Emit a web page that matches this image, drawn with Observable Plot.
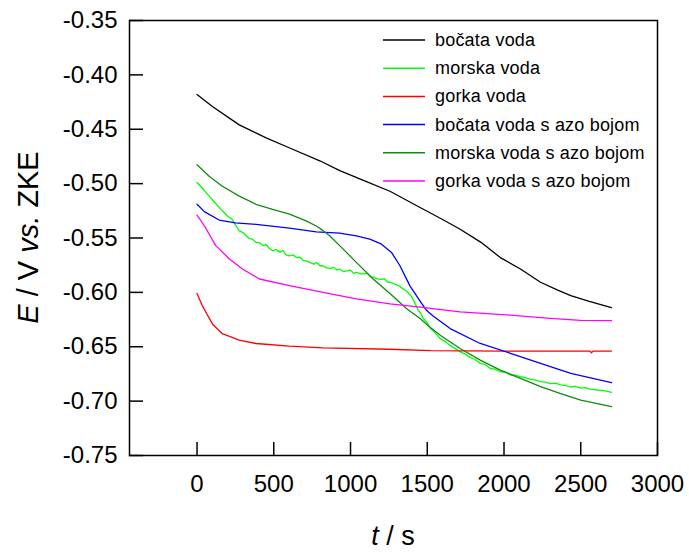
<!DOCTYPE html>
<html><head><meta charset="utf-8">
<script src="https://cdn.jsdelivr.net/npm/d3@7"></script>
<script src="https://cdn.jsdelivr.net/npm/@observablehq/plot@0.6"></script>
<style>body{margin:0;background:#fff;} #chart{position:relative;width:689px;height:552px;}</style>
</head><body><div id="chart"></div>
<script>
const seriesNames = ["bočata voda", "morska voda", "gorka voda", "bočata voda s azo bojom", "morska voda s azo bojom", "gorka voda s azo bojom"];
const seriesColors = ["#000000", "#00ff00", "#ff0000", "#0000ff", "#108a10", "#ff00ff"];

const t_bocata = [0, 100, 275, 450, 600, 800, 930, 1100, 1257, 1453, 1600, 1714, 1850, 1976, 2107, 2238, 2350, 2435, 2550, 2700];
const E_bocata = [-0.418, -0.429, -0.446, -0.458, -0.467, -0.479, -0.488, -0.498, -0.507, -0.522, -0.533, -0.542, -0.554, -0.568, -0.5785, -0.5907, -0.598, -0.603, -0.608, -0.614];

const t_morska = [0, 40, 79, 120, 165, 200, 231, 245, 260, 275, 300, 320, 340, 360, 384, 410, 430, 450, 470, 493, 515, 540, 560, 580, 602, 625, 650, 670, 690, 711, 735, 760, 780, 800, 820, 845, 870, 890, 910, 929, 955, 980, 1000, 1020, 1038, 1065, 1090, 1110, 1130, 1147, 1175, 1200, 1220, 1240, 1257, 1280, 1300, 1320, 1344, 1362, 1380, 1395, 1409, 1425, 1440, 1458, 1474, 1500, 1520, 1550, 1584, 1620, 1650, 1680, 1714, 1750, 1780, 1810, 1845, 1880, 1910, 1940, 1976, 2010, 2040, 2070, 2107, 2140, 2170, 2200, 2238, 2270, 2300, 2335, 2369, 2400, 2430, 2465, 2500, 2530, 2560, 2590, 2620, 2660, 2700];
const E_morska = [-0.499, -0.505, -0.5115, -0.518, -0.525, -0.530, -0.533, -0.537, -0.540, -0.5435, -0.545, -0.548, -0.5505, -0.551, -0.554, -0.5545, -0.557, -0.556, -0.5595, -0.5618, -0.5605, -0.563, -0.5615, -0.5655, -0.5664, -0.5655, -0.568, -0.5675, -0.5705, -0.571, -0.5725, -0.574, -0.5725, -0.5755, -0.5755, -0.5775, -0.578, -0.577, -0.5795, -0.5785, -0.581, -0.580, -0.5795, -0.5825, -0.5815, -0.583, -0.583, -0.5825, -0.5855, -0.586, -0.5875, -0.588, -0.5875, -0.5905, -0.5907, -0.592, -0.593, -0.5945, -0.597, -0.5985, -0.601, -0.6035, -0.607, -0.6115, -0.616, -0.6195, -0.624, -0.628, -0.633, -0.637, -0.6425, -0.6455, -0.649, -0.6515, -0.6545, -0.657, -0.660, -0.6615, -0.6653, -0.6665, -0.670, -0.6705, -0.673, -0.6735, -0.676, -0.676, -0.6775, -0.6785, -0.680, -0.6805, -0.682, -0.6825, -0.684, -0.6835, -0.685, -0.6855, -0.687, -0.6865, -0.688, -0.6875, -0.689, -0.6895, -0.690, -0.6905, -0.692];

const t_gorka = [0, 30, 57, 100, 165, 275, 384, 602, 820, 1257, 1518, 2000, 2400, 2560, 2570, 2580, 2700];
const E_gorka = [-0.601, -0.611, -0.618, -0.629, -0.638, -0.644, -0.647, -0.6495, -0.651, -0.6523, -0.6535, -0.654, -0.654, -0.654, -0.6555, -0.654, -0.654];

const t_bocataAzo = [0, 50, 144, 250, 384, 602, 777, 929, 1038, 1126, 1202, 1267, 1322, 1387, 1453, 1496, 1540, 1649, 1845, 2042, 2238, 2435, 2700];
const E_bocataAzo = [-0.519, -0.526, -0.5335, -0.536, -0.5374, -0.541, -0.5444, -0.5456, -0.548, -0.551, -0.5557, -0.5633, -0.5755, -0.594, -0.608, -0.6167, -0.622, -0.6333, -0.647, -0.656, -0.6653, -0.6745, -0.683];

const t_morskaAzo = [0, 79, 165, 275, 384, 493, 602, 711, 777, 820, 864, 951, 1038, 1147, 1257, 1366, 1453, 1518, 1584, 1714, 1845, 1976, 2107, 2238, 2369, 2500, 2600, 2700];
const E_morskaAzo = [-0.4826, -0.4933, -0.5024, -0.5115, -0.519, -0.5237, -0.528, -0.5343, -0.539, -0.543, -0.548, -0.560, -0.5724, -0.5877, -0.601, -0.615, -0.624, -0.632, -0.6395, -0.6516, -0.6623, -0.6715, -0.679, -0.6867, -0.693, -0.699, -0.702, -0.705];

const t_gorkaAzo = [0, 20, 57, 122, 209, 296, 406, 602, 820, 1038, 1257, 1453, 1714, 2042, 2300, 2500, 2700];
const E_gorkaAzo = [-0.529, -0.533, -0.541, -0.557, -0.569, -0.5785, -0.5877, -0.5938, -0.600, -0.606, -0.6105, -0.6136, -0.618, -0.621, -0.624, -0.6258, -0.626];

const xTicks = [0, 500, 1000, 1500, 2000, 2500, 3000];
const yTicks = [-0.35, -0.40, -0.45, -0.50, -0.55, -0.60, -0.65, -0.70, -0.75];

const allT = [t_bocata, t_morska, t_gorka, t_bocataAzo, t_morskaAzo, t_gorkaAzo];
const allE = [E_bocata, E_morska, E_gorka, E_bocataAzo, E_morskaAzo, E_gorkaAzo];
const rows = [];
seriesNames.forEach((name, i) => allT[i].forEach((t, j) => rows.push({series: name, t, E: allE[i][j]})));

const W = 689, H = 552, mL = 129, mR = 32, mT = 20, mB = 97;
const plot = Plot.plot({
  width: W, height: H, marginLeft: mL, marginRight: mR, marginTop: mT, marginBottom: mB,
  style: {fontFamily: "'Liberation Sans', Arial, sans-serif", background: "white", color: "black"},
  x: {domain: [-440, 3000]},
  y: {domain: [-0.75, -0.35]},
  color: {domain: seriesNames, range: seriesColors},
  marks: [
    Plot.line(rows, {x: "t", y: "E", z: "series", stroke: "series", strokeWidth: 1.3}),
    Plot.frame({stroke: "black", strokeWidth: 1.5}),
    Plot.tickY(yTicks, {y: d => d, insetRight: W - mL - mR - 14, stroke: "black", strokeWidth: 1.5}),
    Plot.tickX(xTicks, {x: d => d, insetTop: H - mT - mB - 13, stroke: "black", strokeWidth: 1.5}),
    Plot.axisY({ticks: yTicks, tickSize: 0, tickPadding: 12, tickFormat: d => d.toFixed(2), fontSize: 24, label: null}),
    Plot.axisX({ticks: xTicks, tickSize: 0, tickPadding: 19, tickFormat: d => String(d), fontSize: 24, label: null})
  ]
});
document.getElementById("chart").appendChild(plot);

const svg = d3.select(plot);
const yt = svg.append("text")
  .attr("transform", "translate(28,237.5) rotate(-90)")
  .attr("text-anchor", "middle").attr("dominant-baseline", "central")
  .style("font-size", "29px").attr("fill", "black");
yt.append("tspan").style("font-style", "italic").text("E");
yt.append("tspan").text(" / V ");
yt.append("tspan").style("font-style", "italic").text("vs.");
yt.append("tspan").text(" ZKE");

const xt = svg.append("text")
  .attr("x", (mL + W - mR) / 2).attr("y", 536)
  .attr("text-anchor", "middle").attr("dominant-baseline", "central")
  .style("font-size", "27px").attr("fill", "black");
xt.append("tspan").style("font-style", "italic").text("t");
xt.append("tspan").text(" / s");

const leg = svg.append("g");
seriesNames.forEach((name, i) => {
  const y = 40 + i * 28.2;
  leg.append("line").attr("x1", 383).attr("x2", 425).attr("y1", y).attr("y2", y)
    .attr("stroke", seriesColors[i]).attr("stroke-width", 1.5);
  leg.append("text").attr("x", 435).attr("y", y).attr("text-anchor", "start").attr("dominant-baseline", "central")
    .style("font-size", "18px").style("letter-spacing", "0.2px").attr("fill", "black").text(name);
});
</script>
</body></html>
